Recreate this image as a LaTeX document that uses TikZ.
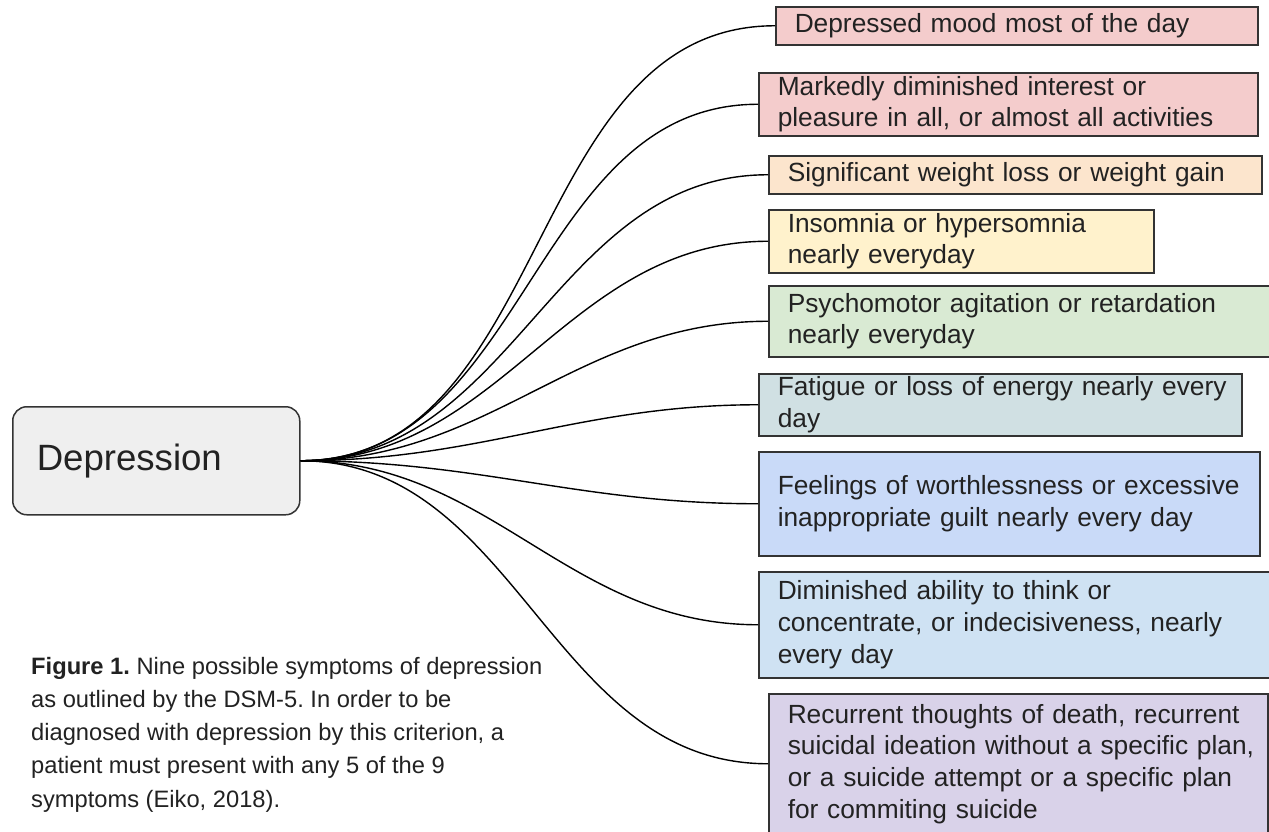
\documentclass[tikz,border=0pt]{standalone}
\usepackage{fontspec}
\setmainfont{Liberation Sans}
\usepackage{tikz}

\definecolor{boxline}{HTML}{333333}
\definecolor{inktext}{HTML}{222222}
\definecolor{redbox}{HTML}{F4CCCC}
\definecolor{orangebox}{HTML}{FCE5CD}
\definecolor{yellowbox}{HTML}{FFF2CC}
\definecolor{greenbox}{HTML}{D9EAD3}
\definecolor{cyanbox}{HTML}{D0E0E3}
\definecolor{cornflowerbox}{HTML}{C9DAF8}
\definecolor{bluebox}{HTML}{CFE2F3}
\definecolor{purplebox}{HTML}{D9D2E9}
\definecolor{greybox}{HTML}{EFEFEF}

\newcommand{\boxtextfont}{\fontsize{26.3}{31.7}\selectfont}

\begin{document}
\frenchspacing
\begin{tikzpicture}[x=1pt,y=-1pt,
	symbox/.style={draw=boxline,line width=1.5pt,anchor=north west,align=left,
		inner xsep=19pt,inner ysep=0pt,text=inktext,font=\boxtextfont},
	link/.style={line width=1.4pt,black}]
	\useasboundingbox[fill=white] (0,0) rectangle (1269,831);
	
	%Root
	\node[draw=boxline,line width=1.5pt,fill=greybox,rounded corners=14pt,anchor=north west,
		minimum width=287pt,minimum height=108pt,text width=239pt,inner xsep=24pt,align=left,
		text=inktext,font=\fontsize{36.6}{42}\selectfont] (dep) at (12,406) {Depression};
	
	%Symptoms
	\node[symbox,fill=redbox,minimum height=38pt,text width=444pt] (s1) at (775,6)
		{Depressed mood most of the day};
	\node[symbox,fill=redbox,minimum height=63pt,text width=461pt] (s2) at (758,72)
		{Markedly diminished interest or\\pleasure in all, or almost all activities};
	\node[symbox,fill=orangebox,minimum height=38pt,text width=455pt] (s3) at (768,155)
		{Significant weight loss or weight gain};
	\node[symbox,fill=yellowbox,minimum height=63pt,text width=347pt] (s4) at (768,209)
		{Insomnia or hypersomnia\\nearly everyday};
	\node[symbox,fill=greenbox,minimum height=71pt,text width=466pt] (s5) at (768,285)
		{Psychomotor agitation or retardation\\nearly everyday};
	\node[symbox,fill=cyanbox,minimum height=62pt,text width=445pt] (s6) at (758,373)
		{\mbox{Fatigue or loss of energy nearly every}\\day};
	\node[symbox,fill=cornflowerbox,minimum height=104pt,text width=463pt] (s7) at (758,451)
		{Feelings of worthlessness or excessive\\inappropriate guilt nearly every day};
	\node[symbox,fill=bluebox,minimum height=106pt,text width=476pt] (s8) at (758,571)
		{Diminished ability to think or\\concentrate, or indecisiveness, nearly\\every day};
	\node[symbox,fill=purplebox,minimum height=140pt,text width=461pt] (s9) at (768,693)
		{Recurrent thoughts of death, recurrent\\\mbox{suicidal ideation without a specific plan,}\\or a suicide attempt or a specific plan\\for commiting suicide};
	
	%Root--Symptoms
	\foreach \i in {1,...,9}
	\draw[link] (dep.east) to[out=0,in=180] (s\i.west);
	
	%caption
	\node[anchor=north west,inner sep=0pt,align=left,text=inktext,
		font=\fontsize{23.7}{33.2}\selectfont] (cap) at (31,657)
		{\textbf{Figure 1.} Nine possible symptoms of depression\\as outlined by the DSM-5. In order to be\\diagnosed with depression by this criterion, a\\patient must present with any 5 of the 9\\symptoms (Eiko, 2018).};
\end{tikzpicture}
\end{document}
